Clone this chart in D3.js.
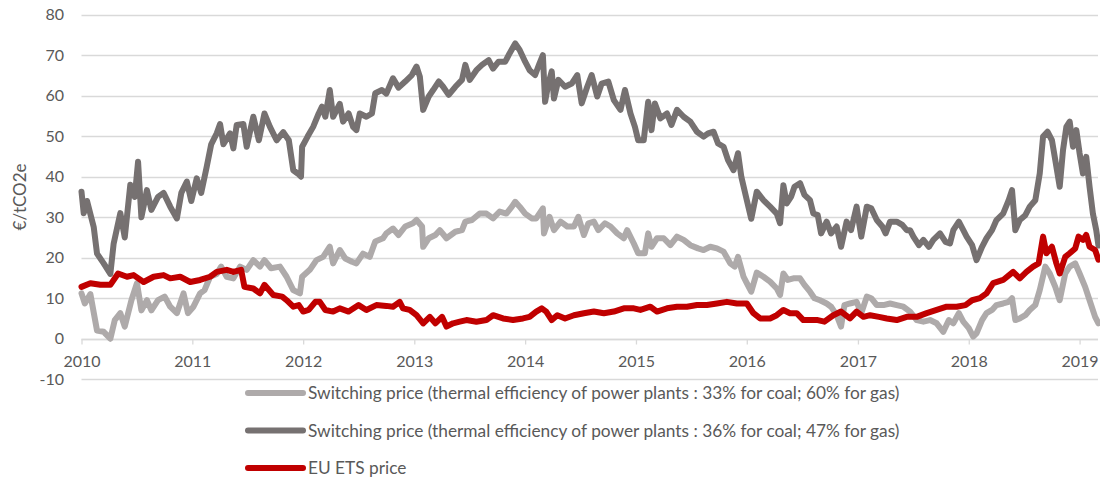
<!DOCTYPE html>
<html>
<head>
<meta charset="utf-8">
<script src="https://cdn.jsdelivr.net/npm/d3@7"></script>
<style>
  body { margin: 0; background: #fff; }
  text { font-family: Lato, "Open Sans", sans-serif; fill: #595959; }
</style>
</head>
<body>
<div id="chart"></div>
<script>
// y axis ticks and x axis years
const yTicks = [-10, 0, 10, 20, 30, 40, 50, 60, 70, 80];
const yearTicks = [2010, 2011, 2012, 2013, 2014, 2015, 2016, 2017, 2018, 2019];

const seriesNames = [
  'Switching price (thermal efficiency of power plants : 33% for coal; 60% for gas)',
  'Switching price (thermal efficiency of power plants : 36% for coal; 47% for gas)',
  'EU ETS price'
];
const seriesColors = ['#aeaaaa', '#767171', '#c00000'];

// [decimal year, €/tCO2e]
const switching3360 = [
  [2010.00, 11.2], [2010.03, 8.7], [2010.08, 11.0], [2010.14, 2.0], [2010.20, 1.7], [2010.26, 0.0],
  [2010.30, 4.6], [2010.35, 6.3], [2010.39, 3.0], [2010.45, 9.5], [2010.50, 13.7], [2010.54, 7.0],
  [2010.59, 9.5], [2010.63, 7.0], [2010.69, 9.5], [2010.75, 10.4], [2010.80, 7.9], [2010.86, 6.3],
  [2010.92, 11.2], [2010.96, 6.3], [2011.01, 7.9], [2011.07, 11.2], [2011.11, 12.0], [2011.16, 15.3],
  [2011.22, 16.0], [2011.26, 17.8], [2011.31, 15.3], [2011.37, 14.9], [2011.43, 17.8], [2011.49, 17.0],
  [2011.55, 19.4], [2011.61, 17.8], [2011.65, 19.4], [2011.71, 17.4], [2011.79, 17.8], [2011.85, 15.3],
  [2011.91, 12.0], [2011.97, 11.2], [2011.99, 15.3], [2012.06, 17.0], [2012.12, 19.4], [2012.18, 20.2],
  [2012.24, 22.7], [2012.27, 18.6], [2012.33, 21.9], [2012.38, 19.8], [2012.44, 19.0], [2012.48, 18.6],
  [2012.54, 21.0], [2012.60, 20.2], [2012.65, 24.0], [2012.72, 24.8], [2012.75, 26.0], [2012.81, 27.2],
  [2012.86, 25.6], [2012.92, 27.7], [2012.99, 28.5], [2013.02, 29.3], [2013.07, 27.7], [2013.08, 22.7],
  [2013.13, 24.8], [2013.19, 25.6], [2013.23, 26.8], [2013.29, 24.8], [2013.37, 26.4], [2013.43, 26.8],
  [2013.46, 28.9], [2013.52, 29.3], [2013.59, 30.9], [2013.65, 30.9], [2013.71, 29.7], [2013.77, 31.4],
  [2013.83, 30.9], [2013.88, 32.6], [2013.91, 33.8], [2013.95, 32.6], [2014.00, 30.9], [2014.06, 29.7],
  [2014.10, 29.7], [2014.16, 32.2], [2014.17, 26.0], [2014.22, 30.1], [2014.26, 26.8], [2014.32, 28.9],
  [2014.38, 27.7], [2014.44, 27.7], [2014.48, 30.1], [2014.53, 25.6], [2014.57, 28.5], [2014.62, 28.9],
  [2014.66, 26.8], [2014.72, 28.5], [2014.77, 27.7], [2014.83, 26.0], [2014.89, 24.8], [2014.92, 26.8],
  [2014.98, 23.5], [2015.02, 21.1], [2015.08, 21.1], [2015.11, 26.0], [2015.14, 22.7], [2015.19, 24.8],
  [2015.25, 24.8], [2015.31, 23.1], [2015.37, 25.2], [2015.43, 24.4], [2015.49, 23.1], [2015.56, 22.3],
  [2015.61, 21.9], [2015.67, 22.7], [2015.73, 22.3], [2015.79, 21.5], [2015.85, 18.6], [2015.89, 17.8],
  [2015.92, 20.2], [2015.97, 15.3], [2016.00, 13.7], [2016.04, 11.6], [2016.09, 16.3], [2016.15, 15.3],
  [2016.21, 14.1], [2016.27, 12.4], [2016.30, 10.8], [2016.33, 16.1], [2016.37, 14.5], [2016.42, 14.9],
  [2016.48, 14.9], [2016.52, 13.3], [2016.57, 11.6], [2016.61, 10.0], [2016.66, 9.5], [2016.72, 8.7],
  [2016.76, 7.9], [2016.81, 5.8], [2016.85, 3.0], [2016.88, 8.3], [2016.93, 8.7], [2016.99, 9.1],
  [2017.03, 6.3], [2017.08, 10.4], [2017.12, 10.0], [2017.17, 8.3], [2017.23, 8.3], [2017.29, 8.7],
  [2017.35, 8.3], [2017.41, 7.9], [2017.47, 6.7], [2017.53, 4.6], [2017.59, 4.2], [2017.65, 4.6],
  [2017.71, 3.8], [2017.77, 1.7], [2017.82, 4.6], [2017.86, 3.8], [2017.91, 6.3], [2017.95, 4.2],
  [2018.00, 2.6], [2018.04, 0.5], [2018.07, 1.3], [2018.12, 4.6], [2018.16, 6.3], [2018.21, 7.1],
  [2018.25, 8.3], [2018.31, 8.7], [2018.36, 9.1], [2018.39, 10.0], [2018.42, 4.6], [2018.46, 5.0],
  [2018.51, 5.8], [2018.55, 7.1], [2018.60, 8.3], [2018.64, 12.0], [2018.69, 17.8], [2018.73, 16.1],
  [2018.78, 12.8], [2018.82, 9.5], [2018.87, 16.1], [2018.91, 17.8], [2018.96, 18.6], [2019.00, 16.1],
  [2019.05, 12.8], [2019.09, 9.5], [2019.14, 5.4], [2019.17, 3.8]
];

const switching3647 = [
  [2010.00, 36.3], [2010.02, 31.0], [2010.05, 34.0], [2010.11, 27.6], [2010.14, 21.0], [2010.20, 18.6],
  [2010.26, 16.0], [2010.29, 23.5], [2010.35, 31.0], [2010.39, 25.0], [2010.44, 38.0], [2010.48, 35.0],
  [2010.51, 43.7], [2010.54, 30.0], [2010.59, 36.7], [2010.63, 31.8], [2010.69, 35.0], [2010.74, 36.0],
  [2010.80, 32.6], [2010.86, 29.7], [2010.90, 36.0], [2010.95, 38.8], [2010.99, 34.0], [2011.04, 39.6],
  [2011.08, 36.0], [2011.13, 42.5], [2011.17, 48.0], [2011.22, 50.7], [2011.25, 53.0], [2011.28, 48.0],
  [2011.34, 50.7], [2011.37, 47.0], [2011.40, 52.8], [2011.46, 53.0], [2011.49, 47.4], [2011.55, 54.8],
  [2011.60, 49.0], [2011.65, 55.6], [2011.70, 52.3], [2011.76, 49.0], [2011.82, 51.0], [2011.87, 49.0],
  [2011.91, 41.6], [2011.95, 40.8], [2011.98, 40.0], [2011.99, 47.4], [2012.04, 49.9], [2012.09, 52.3],
  [2012.14, 55.6], [2012.17, 57.3], [2012.20, 54.8], [2012.24, 61.4], [2012.27, 54.8], [2012.33, 58.0],
  [2012.36, 53.6], [2012.41, 55.6], [2012.45, 52.3], [2012.48, 51.5], [2012.51, 55.6], [2012.57, 54.8],
  [2012.62, 55.6], [2012.65, 60.6], [2012.71, 61.4], [2012.75, 60.5], [2012.81, 64.3], [2012.86, 62.0],
  [2012.92, 63.5], [2012.98, 65.1], [2013.02, 67.2], [2013.05, 64.7], [2013.08, 56.5], [2013.13, 59.8],
  [2013.17, 61.4], [2013.22, 63.5], [2013.26, 62.2], [2013.31, 60.2], [2013.37, 62.2], [2013.43, 63.9],
  [2013.46, 67.6], [2013.50, 63.9], [2013.56, 66.3], [2013.61, 67.6], [2013.67, 68.8], [2013.71, 66.7],
  [2013.76, 68.4], [2013.82, 68.4], [2013.86, 70.5], [2013.91, 72.9], [2013.95, 71.3], [2014.00, 68.4],
  [2014.04, 66.3], [2014.09, 65.1], [2014.13, 68.0], [2014.16, 70.0], [2014.18, 58.5], [2014.21, 63.0],
  [2014.24, 66.0], [2014.26, 59.3], [2014.30, 63.9], [2014.36, 62.2], [2014.42, 63.0], [2014.47, 65.1],
  [2014.51, 58.1], [2014.56, 62.2], [2014.60, 65.1], [2014.65, 59.8], [2014.69, 63.0], [2014.75, 63.5],
  [2014.80, 58.9], [2014.86, 56.5], [2014.90, 61.4], [2014.95, 55.6], [2014.99, 52.3], [2015.02, 49.0],
  [2015.07, 49.0], [2015.11, 58.5], [2015.14, 51.5], [2015.17, 58.1], [2015.22, 54.4], [2015.28, 55.6],
  [2015.32, 52.8], [2015.37, 56.5], [2015.43, 54.8], [2015.49, 53.6], [2015.55, 51.1], [2015.61, 49.9],
  [2015.65, 50.7], [2015.70, 51.1], [2015.74, 48.2], [2015.79, 47.4], [2015.83, 44.1], [2015.88, 41.6],
  [2015.92, 45.8], [2015.95, 40.0], [2016.00, 34.2], [2016.04, 29.6], [2016.09, 36.3], [2016.15, 34.2],
  [2016.21, 32.6], [2016.27, 30.9], [2016.30, 28.5], [2016.33, 37.9], [2016.36, 33.4], [2016.40, 35.1],
  [2016.43, 37.5], [2016.48, 38.4], [2016.52, 35.5], [2016.57, 34.2], [2016.60, 30.9], [2016.64, 30.5],
  [2016.67, 26.0], [2016.72, 28.9], [2016.76, 26.0], [2016.81, 27.7], [2016.85, 22.7], [2016.90, 28.9],
  [2016.94, 26.8], [2016.99, 32.6], [2017.03, 25.2], [2017.08, 32.6], [2017.12, 32.2], [2017.17, 29.3],
  [2017.22, 27.7], [2017.25, 26.0], [2017.29, 28.9], [2017.35, 28.9], [2017.40, 28.1], [2017.44, 26.8],
  [2017.47, 26.8], [2017.50, 25.2], [2017.55, 23.1], [2017.59, 24.4], [2017.64, 22.7], [2017.68, 24.4],
  [2017.74, 26.0], [2017.79, 23.9], [2017.83, 23.5], [2017.86, 26.8], [2017.91, 28.9], [2017.95, 26.8],
  [2017.98, 25.2], [2018.03, 23.1], [2018.07, 19.4], [2018.12, 22.7], [2018.16, 24.8], [2018.21, 26.8],
  [2018.25, 29.3], [2018.31, 30.9], [2018.36, 34.2], [2018.39, 36.7], [2018.42, 26.8], [2018.46, 29.3],
  [2018.51, 30.5], [2018.55, 32.6], [2018.60, 34.2], [2018.64, 40.8], [2018.67, 49.9], [2018.71, 51.1],
  [2018.75, 49.0], [2018.78, 44.1], [2018.82, 37.5], [2018.85, 46.6], [2018.88, 52.3], [2018.91, 53.6],
  [2018.94, 47.4], [2018.97, 51.5], [2019.00, 45.8], [2019.03, 40.8], [2019.06, 44.9], [2019.09, 37.5],
  [2019.12, 30.9], [2019.15, 26.8], [2019.17, 23.0]
];

const etsPrice = [
  [2010.00, 12.8], [2010.08, 13.7], [2010.17, 13.3], [2010.26, 13.3], [2010.33, 16.1], [2010.41, 15.3],
  [2010.47, 15.7], [2010.56, 14.0], [2010.65, 15.3], [2010.74, 15.7], [2010.80, 14.9], [2010.89, 15.3],
  [2010.98, 14.0], [2011.07, 14.5], [2011.16, 15.3], [2011.22, 16.5], [2011.31, 17.0], [2011.37, 16.5],
  [2011.44, 17.0], [2011.47, 12.8], [2011.55, 12.4], [2011.61, 11.2], [2011.65, 13.3], [2011.73, 10.8],
  [2011.81, 10.4], [2011.85, 9.5], [2011.91, 7.9], [2011.96, 8.3], [2012.00, 6.7], [2012.05, 7.1],
  [2012.11, 9.1], [2012.15, 9.1], [2012.20, 7.1], [2012.27, 6.7], [2012.33, 7.5], [2012.41, 6.7],
  [2012.50, 8.3], [2012.57, 7.1], [2012.66, 8.3], [2012.75, 8.1], [2012.81, 7.9], [2012.87, 9.1],
  [2012.90, 7.5], [2012.96, 7.1], [2013.02, 5.8], [2013.08, 3.8], [2013.14, 5.4], [2013.19, 3.8],
  [2013.25, 5.4], [2013.29, 3.0], [2013.35, 3.8], [2013.41, 4.2], [2013.47, 4.6], [2013.56, 4.2],
  [2013.65, 4.6], [2013.71, 5.8], [2013.80, 5.0], [2013.89, 4.6], [2013.98, 5.0], [2014.04, 5.4],
  [2014.10, 6.7], [2014.15, 7.5], [2014.19, 6.7], [2014.24, 4.6], [2014.29, 5.8], [2014.36, 5.0],
  [2014.44, 5.8], [2014.53, 6.3], [2014.62, 6.7], [2014.71, 6.3], [2014.80, 6.7], [2014.89, 7.5],
  [2014.98, 7.5], [2015.04, 7.1], [2015.13, 7.9], [2015.19, 6.7], [2015.28, 7.5], [2015.37, 7.9],
  [2015.46, 7.9], [2015.55, 8.3], [2015.64, 8.3], [2015.73, 8.7], [2015.82, 9.1], [2015.91, 8.7],
  [2016.00, 8.7], [2016.06, 6.3], [2016.12, 5.0], [2016.21, 5.0], [2016.27, 5.8], [2016.33, 7.1],
  [2016.39, 6.3], [2016.45, 6.3], [2016.51, 4.6], [2016.58, 4.6], [2016.64, 4.6], [2016.70, 4.2],
  [2016.78, 5.8], [2016.85, 6.7], [2016.93, 5.0], [2016.99, 6.7], [2017.05, 5.4], [2017.11, 5.8],
  [2017.19, 5.4], [2017.26, 5.0], [2017.35, 4.6], [2017.44, 5.4], [2017.53, 5.4], [2017.62, 6.3],
  [2017.71, 7.1], [2017.80, 7.9], [2017.89, 7.9], [2017.97, 8.3], [2018.03, 9.5], [2018.10, 10.0],
  [2018.16, 11.2], [2018.22, 13.7], [2018.31, 14.5], [2018.40, 16.5], [2018.46, 14.9], [2018.52, 16.5],
  [2018.58, 17.8], [2018.63, 18.6], [2018.67, 25.2], [2018.70, 21.1], [2018.75, 22.7], [2018.79, 18.6],
  [2018.82, 16.1], [2018.87, 20.2], [2018.91, 21.1], [2018.96, 22.3], [2018.99, 25.2], [2019.03, 24.4],
  [2019.06, 25.6], [2019.09, 22.7], [2019.14, 21.9], [2019.17, 19.5]
];

const series = [switching3360, switching3647, etsPrice];

// decimal year -> Date
function toDate(y) {
  const yr = Math.floor(y);
  const start = new Date(yr, 0, 1);
  return new Date(start.getTime() + (y - yr) * 365.25 * 864e5);
}

const width = 1100, height = 478;
const plot = {left: 81.5, right: 1098, top: 14.7, bottom: 379.2};

const svg = d3.select('#chart').append('svg')
  .attr('width', width)
  .attr('height', height);

const x = d3.scaleTime()
  .domain([toDate(2010), toDate(2019.166)])
  .range([plot.left, plot.right]);
const y = d3.scaleLinear()
  .domain([-10, 80])
  .range([plot.bottom, plot.top]);

// horizontal gridlines
svg.append('g').selectAll('line').data(yTicks).enter().append('line')
  .attr('x1', plot.left).attr('x2', plot.right)
  .attr('y1', d => Math.round(y(d)) + 0.5).attr('y2', d => Math.round(y(d)) + 0.5)
  .attr('stroke', '#d9d9d9').attr('stroke-width', 1.3);

// y tick labels
svg.append('g').selectAll('text').data(yTicks).enter().append('text')
  .attr('x', 64).attr('y', d => y(d))
  .attr('dy', '0.35em')
  .attr('text-anchor', 'end')
  .style('font-size', '16px')
  .text(d => d);

// x axis at zero with year ticks
const xAxis = svg.append('g')
  .attr('transform', `translate(0,${Math.round(y(0)) + 0.5})`)
  .call(d3.axisBottom(x).tickValues(yearTicks.map(toDate)).tickSize(5).tickPadding(11)
    .tickFormat(d3.timeFormat('%Y')));
xAxis.select('.domain').attr('stroke', '#d9d9d9').attr('stroke-width', 1.3)
  .attr('d', `M${plot.left},0H${plot.right}`);
xAxis.selectAll('.tick line').attr('stroke', '#d9d9d9').attr('stroke-width', 1.3);
xAxis.selectAll('.tick text')
  .style('font-size', '16px')
  .style('font-family', 'Lato, "Open Sans", sans-serif')
  .attr('fill', '#595959');

// y axis title
svg.append('text')
  .attr('transform', `translate(26,${(plot.top + plot.bottom) / 2}) rotate(-90)`)
  .attr('text-anchor', 'middle')
  .style('font-size', '17px')
  .text('€/tCO2e');

// series lines
const line = d3.line()
  .x(d => x(toDate(d[0])))
  .y(d => y(d[1]));

svg.append('g').selectAll('path').data(series).enter().append('path')
  .attr('d', line)
  .attr('fill', 'none')
  .attr('stroke', (d, i) => seriesColors[i])
  .attr('stroke-width', 6)
  .attr('stroke-linejoin', 'round')
  .attr('stroke-linecap', 'round');

// legend
const legend = svg.append('g').selectAll('g').data(seriesNames).enter().append('g')
  .attr('transform', (d, i) => `translate(248,${393 + i * 37.5})`);
legend.append('line')
  .attr('x1', 0).attr('x2', 55)
  .attr('stroke', (d, i) => seriesColors[i])
  .attr('stroke-width', 6)
  .attr('stroke-linecap', 'round');
legend.append('text')
  .attr('x', 60).attr('dy', '0.35em')
  .style('font-size', '17.3px')
  .text(d => d);
</script>
</body>
</html>
